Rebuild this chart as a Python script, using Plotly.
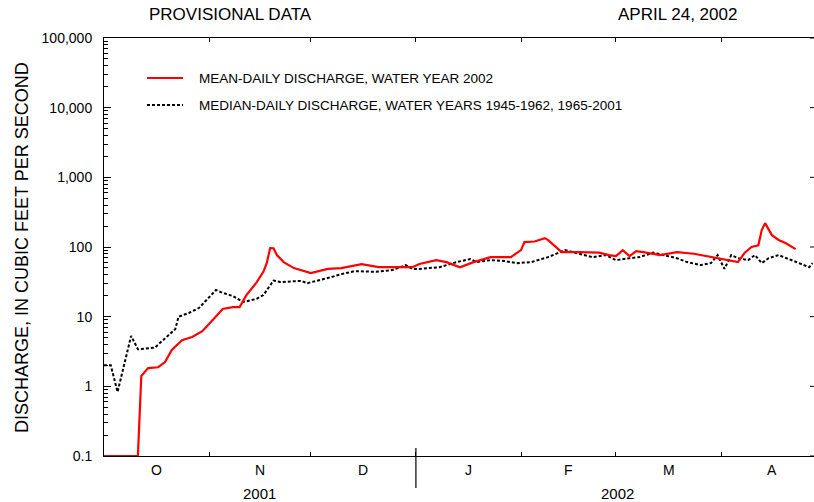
import plotly.graph_objects as go
import pandas as pd

# ---- data ----
median_dates = ["2001-10-01", "2001-10-03", "2001-10-05", "2001-10-09", "2001-10-11", "2001-10-13",
                "2001-10-16", "2001-10-20", "2001-10-22", "2001-10-23", "2001-10-26", "2001-10-29",
                "2001-10-31", "2001-11-03", "2001-11-05", "2001-11-08", "2001-11-11", "2001-11-15",
                "2001-11-17", "2001-11-20", "2001-11-22", "2001-11-28", "2001-11-30", "2001-12-04",
                "2001-12-07", "2001-12-10", "2001-12-14", "2001-12-20", "2001-12-25", "2001-12-29",
                "2001-12-31", "2002-01-02", "2002-01-08", "2002-01-13", "2002-01-17", "2002-01-19",
                "2002-01-23", "2002-01-27", "2002-01-31", "2002-02-04", "2002-02-09", "2002-02-14",
                "2002-02-17", "2002-02-22", "2002-02-26", "2002-03-01", "2002-03-05", "2002-03-08",
                "2002-03-12", "2002-03-15", "2002-03-19", "2002-03-22", "2002-03-26", "2002-03-29",
                "2002-03-31", "2002-04-02", "2002-04-04", "2002-04-06", "2002-04-09", "2002-04-11",
                "2002-04-13", "2002-04-15", "2002-04-18", "2002-04-21", "2002-04-24", "2002-04-27",
                "2002-04-28"]
median_values = [2.0, 2.0, 0.83, 5.3, 3.4, 3.5,
                 3.6, 5.4, 6.6, 10.0, 11.3, 13.3,
                 16.7, 24.1, 22.0, 19.8, 16.2, 18.0,
                 20.4, 33.0, 31.4, 32.6, 30.3, 33.5,
                 37.0, 40.8, 45.1, 44.0, 46.6, 55.0,
                 48.5, 48.5, 51.3, 60.7, 67.0, 60.7,
                 64.9, 63.0, 58.7, 60.7, 71.6, 90.3,
                 83.0, 71.6, 76.5, 64.9, 69.0, 71.6,
                 83.0, 76.5, 69.0, 60.7, 55.0, 58.7,
                 76.5, 48.5, 76.5, 69.0, 64.9, 76.5,
                 58.7, 69.0, 76.5, 67.0, 58.7, 51.3,
                 58.7]

mean_dates = ["2001-10-01", "2001-10-11", "2001-10-12", "2001-10-14", "2001-10-17", "2001-10-19",
              "2001-10-21", "2001-10-24", "2001-10-27", "2001-10-30", "2001-11-02", "2001-11-05",
              "2001-11-08", "2001-11-10", "2001-11-12", "2001-11-15", "2001-11-17", "2001-11-18",
              "2001-11-19", "2001-11-20", "2001-11-21", "2001-11-23", "2001-11-26", "2001-12-01",
              "2001-12-06", "2001-12-10", "2001-12-16", "2001-12-21", "2001-12-26", "2001-12-31",
              "2002-01-02", "2002-01-07", "2002-01-10", "2002-01-14", "2002-01-18", "2002-01-23",
              "2002-01-29", "2002-02-01", "2002-02-02", "2002-02-05", "2002-02-08", "2002-02-09",
              "2002-02-12", "2002-02-13", "2002-02-18", "2002-02-24", "2002-02-27", "2002-03-01",
              "2002-03-03", "2002-03-05", "2002-03-07", "2002-03-09", "2002-03-14", "2002-03-19",
              "2002-03-24", "2002-03-29", "2002-04-02", "2002-04-06", "2002-04-08", "2002-04-10",
              "2002-04-12", "2002-04-13", "2002-04-14", "2002-04-16", "2002-04-18", "2002-04-20",
              "2002-04-23"]
mean_values = [0.1, 0.1, 1.4, 1.83, 1.88, 2.23,
               3.32, 4.6, 5.1, 6.2, 8.9, 12.9,
               13.7, 13.7, 20.4, 31.0, 44.0, 58.7,
               96.4, 96.0, 76.5, 60.7, 49.8, 42.3,
               48.5, 49.8, 56.9, 51.3, 51.3, 51.3,
               57.0, 64.9, 60.7, 51.3, 60.7, 71.6,
               71.6, 90.3, 117.5, 120.0, 134.0, 125.6,
               93.3, 84.5, 84.5, 83.0, 76.5, 74.0,
               90.0, 74.0, 87.0, 84.5, 76.5, 84.5,
               80.0, 71.6, 64.9, 60.7, 83.0, 100.0,
               106.0, 175.0, 220.0, 148.0, 126.0, 114.0,
               93.3]

month_starts = ["2001-10-01", "2001-11-01", "2001-12-01", "2002-01-01",
                "2002-02-01", "2002-03-01", "2002-04-01", "2002-05-01"]
month_labels = ["O", "N", "D", "J", "F", "M", "A"]
ytick_vals = [0.1, 1, 10, 100, 1000, 10000, 100000]
ytick_text = ["0.1", "1", "10", "100", "1,000", "10,000", "100,000"]
year_labels = ["2001", "2002"]
legend_labels = ["MEAN-DAILY DISCHARGE, WATER YEAR 2002",
                 "MEDIAN-DAILY DISCHARGE, WATER YEARS 1945-1962, 1965-2001"]

FONT = "Liberation Sans, Arial, Helvetica, sans-serif"
W, H = 814, 502
L, R, T, B = 104, 0, 38, 46
PW, PH = W - L - R, H - T - B

def px_x(p):
    return (p - L) / PW

def px_y(p):
    return (H - B - p) / PH

MEDIAN_DASH = "3px,2px"

fig = go.Figure()
fig.add_trace(go.Scatter(x=median_dates, y=median_values, mode="lines",
                         line=dict(color="black", width=2, dash=MEDIAN_DASH),
                         showlegend=False, hoverinfo="skip"))
fig.add_trace(go.Scatter(x=mean_dates, y=mean_values, mode="lines",
                         line=dict(color="#ff0000", width=2.2),
                         showlegend=False, hoverinfo="skip"))

fig.update_layout(
    width=W, height=H,
    margin=dict(l=L, r=R, t=T, b=B, pad=0),
    paper_bgcolor="white", plot_bgcolor="white",
    font=dict(family=FONT, color="black"),
    xaxis=dict(type="date", range=["2001-10-01", "2002-04-28 10:00"],
               tickvals=month_starts[1:], ticks="inside", ticklen=4, tickwidth=1,
               tickcolor="black", showticklabels=False, showgrid=False, zeroline=False,
               showline=True, linecolor="black", linewidth=1, mirror="ticks"),
    yaxis=dict(type="log", range=[-1, 5], tickvals=ytick_vals, ticktext=ytick_text,
               ticks="inside", ticklen=7, tickwidth=1, tickcolor="black",
               ticklabelstandoff=8,
               minor=dict(ticks="inside", ticklen=4, dtick="D1", tickcolor="black",
                          showgrid=False),
               tickfont=dict(size=14, family=FONT, color="black"),
               showgrid=False, zeroline=False, showline=True, linecolor="black",
               linewidth=1),
)

ann = []
shapes = []

# month labels centred in each month
ms = pd.to_datetime(month_starts)
for i, lab in enumerate(month_labels):
    mid = ms[i] + (ms[i + 1] - ms[i]) / 2
    ann.append(dict(x=mid.strftime("%Y-%m-%d %H:%M"), xref="x", y=px_y(470), yref="paper",
                    text=lab, showarrow=False, font=dict(size=14, family=FONT),
                    xanchor="center", yanchor="middle"))

# year labels
ann.append(dict(x=px_x(259), xref="paper", y=px_y(493), yref="paper", text=year_labels[0],
                showarrow=False, font=dict(size=15, family=FONT), xanchor="center", yanchor="middle"))
ann.append(dict(x=px_x(617), xref="paper", y=px_y(493), yref="paper", text=year_labels[1],
                showarrow=False, font=dict(size=15, family=FONT), xanchor="center", yanchor="middle"))

# year divider
shapes.append(dict(type="line", xref="x", x0=month_starts[3], x1=month_starts[3],
                   yref="paper", y0=px_y(488), y1=px_y(448), line=dict(color="black", width=1.2)))

# right-side ticks (axis beyond the visible frame)
for v in ytick_vals:
    shapes.append(dict(type="line", xref="paper", x0=1 - 4 / PW, x1=1, yref="y", y0=v, y1=v,
                       line=dict(color="black", width=1)))

# header texts
ann.append(dict(x=px_x(230), xref="paper", y=px_y(15), yref="paper", text="PROVISIONAL DATA",
                showarrow=False, font=dict(size=17, family=FONT), xanchor="center", yanchor="middle"))
ann.append(dict(x=px_x(677), xref="paper", y=px_y(15), yref="paper", text="APRIL 24, 2002",
                showarrow=False, font=dict(size=17, family=FONT), xanchor="center", yanchor="middle"))

# y-axis title
ann.append(dict(x=px_x(22), xref="paper", y=px_y(248), yref="paper",
                text="DISCHARGE, IN CUBIC FEET PER SECOND", textangle=-90, showarrow=False,
                font=dict(size=18, family=FONT), xanchor="center", yanchor="middle"))

# legend
shapes.append(dict(type="line", xref="paper", yref="paper", x0=px_x(147), x1=px_x(183),
                   y0=px_y(78), y1=px_y(78), line=dict(color="#ff0000", width=2)))
shapes.append(dict(type="line", xref="paper", yref="paper", x0=px_x(147), x1=px_x(183),
                   y0=px_y(105), y1=px_y(105), line=dict(color="black", width=2, dash=MEDIAN_DASH)))
for lab, yy in zip(legend_labels, [78, 105]):
    ann.append(dict(x=px_x(197), xref="paper", y=px_y(yy), yref="paper", text=lab,
                    showarrow=False, font=dict(size=13.5, family=FONT),
                    xanchor="left", yanchor="middle"))

fig.update_layout(annotations=ann, shapes=shapes)
fig.write_html("out.html", config={"displayModeBar": False},
               post_script="document.body.style.margin='0';document.body.style.overflow='hidden';")
